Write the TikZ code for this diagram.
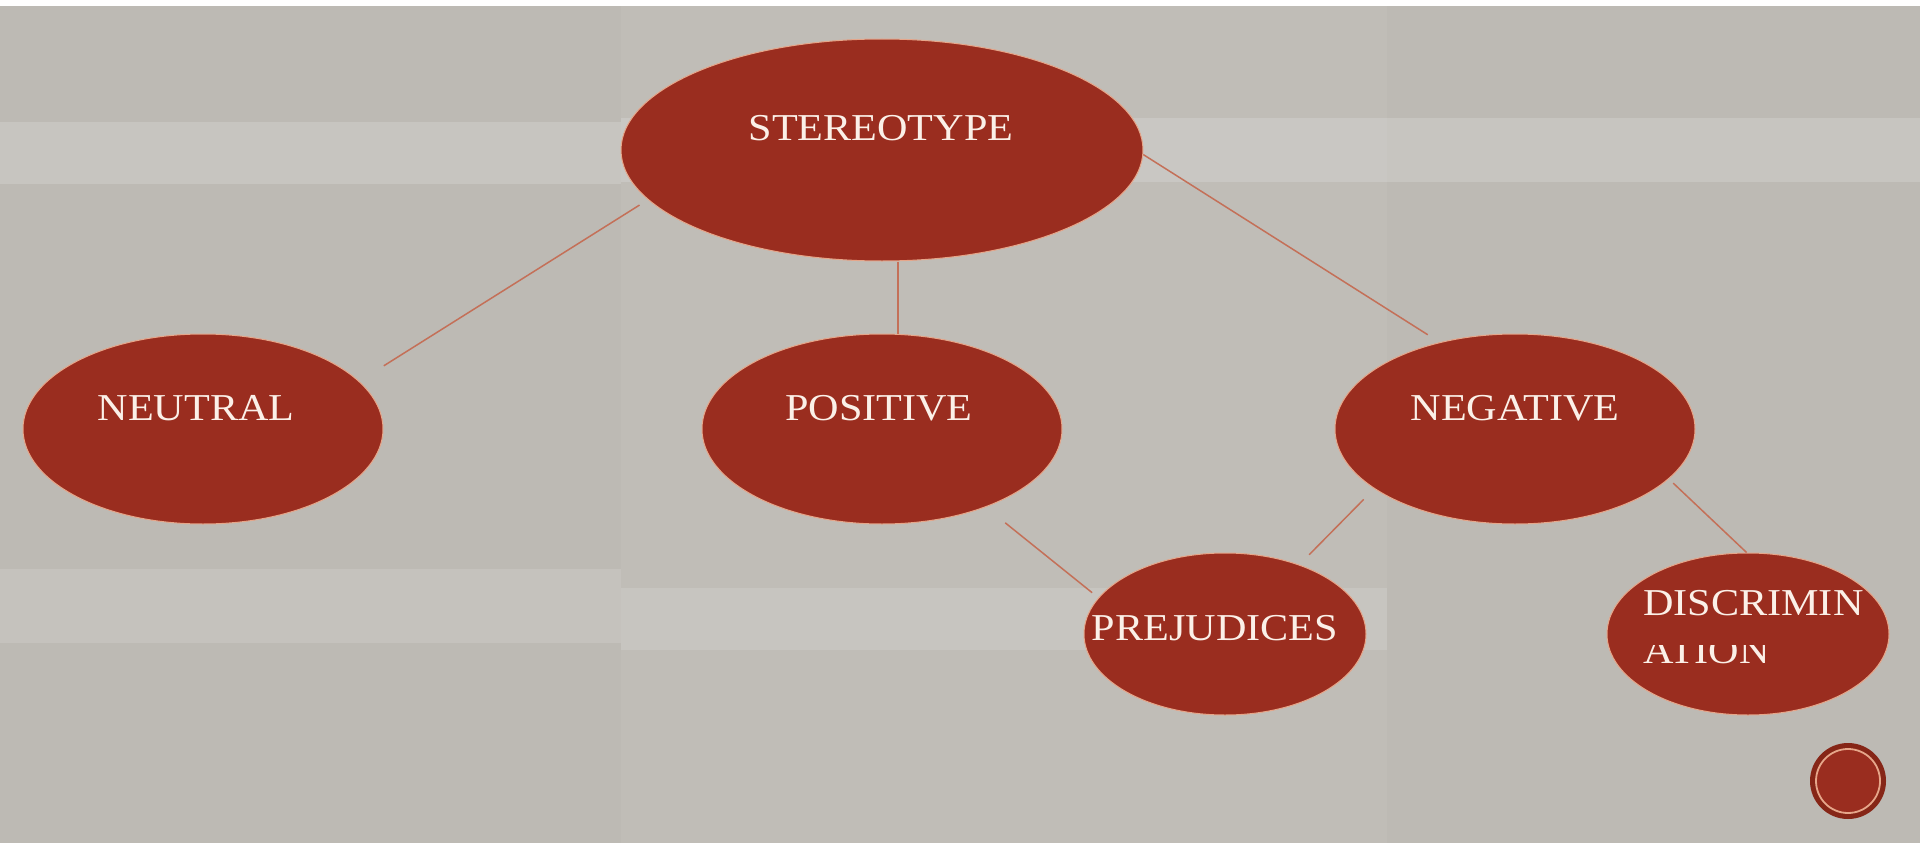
\documentclass[tikz,border=0pt]{standalone}
\usepackage{fontspec}
\setmainfont{Liberation Serif}
\usetikzlibrary{shapes.geometric}
\definecolor{slate}{HTML}{BDBAB4}
\definecolor{brick}{HTML}{9A2D1F}
\definecolor{darkbrick}{HTML}{862617}
\definecolor{rim}{HTML}{E6A68A}
\definecolor{linkc}{HTML}{C47058}
\definecolor{cream}{HTML}{FBF0E8}
\tikzset{
  bubble/.style={ellipse, draw=rim, line width=1pt, fill=brick, inner sep=0pt},
  word/.style={text=cream, font=\fontsize{38pt}{42pt}\selectfont, inner sep=0pt, anchor=base},
  link/.style={draw=linkc, line width=1.5pt}
}
\newcommand{\wideword}[1]{\scalebox{1.11}[1]{#1}}

\begin{document}
\begin{tikzpicture}[x=1pt,y=-1pt]
\useasboundingbox (0,0) rectangle (1920,843);
% background panels
\fill[slate] (0,0) rectangle (1920,843);
\fill[white] (0,0) rectangle (1920,6);
\fill[white,opacity=0.16] (0,122) rectangle (621,184);
\fill[white,opacity=0.16] (621,118) rectangle (1387,182);
\fill[white,opacity=0.16] (1387,118) rectangle (1920,182);
\fill[white,opacity=0.12] (0,569) rectangle (621,643);
\fill[white,opacity=0.12] (621,588) rectangle (1387,650);
\fill[white,opacity=0.05] (621,6) rectangle (1387,843);

% bubbles
\node[bubble, minimum width=522, minimum height=222] (stereo) at (882,150) {};
\node[bubble, minimum width=360, minimum height=190] (neutral) at (203,429) {};
\node[bubble, minimum width=360, minimum height=190] (positive) at (882,429) {};
\node[bubble, minimum width=360, minimum height=190] (negative) at (1515,429) {};
\node[bubble, minimum width=282, minimum height=162] (prejud) at (1225,634) {};
\node[bubble, minimum width=282, minimum height=162] (discrim) at (1748,634) {};

% labels
\node[word] (stereotxt) at (881,140) {\wideword{STEREOTYPE}};
\node[word] (neutraltxt) at (196,420) {\wideword{NEUTRAL}};
\node[word] (positivetxt) at (879,420) {\wideword{POSITIVE}};
\node[word] (negativetxt) at (1515,420) {\wideword{NEGATIVE}};
\node[word] (prejudtxt) at (1215,640) {\wideword{PREJUDICES}};
\node[word, anchor=base west] (discrimtxt) at (1643,615) {\wideword{DISCRIMIN}};
\begin{scope}
\clip (1600,645) rectangle (1900,700);
\node[word, anchor=base west] (ationtxt) at (1643,663) {\wideword{ATION}};
\end{scope}

% links
\draw[link, shorten <=10pt, shorten >=29pt] (stereo.192) -- (neutral.17);
\draw[link] ([xshift=16pt]stereo.south) -- ([xshift=16pt]positive.north);
\draw[link, shorten >=14pt] (stereo.-1) -- (negative.131);
\draw[link, shorten <=25pt, shorten >=8pt] (positive.-37) -- (prejud.164);
\draw[link, shorten <=15pt, shorten >=14pt] (negative.203) -- (prejud.43);
\draw[link, shorten <=6pt] (negative.-18) -- (discrim.91);

% corner badge
\node[circle, fill=darkbrick, minimum size=76, inner sep=0pt] (badge) at (1848,781) {};
\node[circle, fill=brick, draw=rim, line width=1.8pt, minimum size=64, inner sep=0pt] (badgering) at (badge.center) {};
\end{tikzpicture}
\end{document}
